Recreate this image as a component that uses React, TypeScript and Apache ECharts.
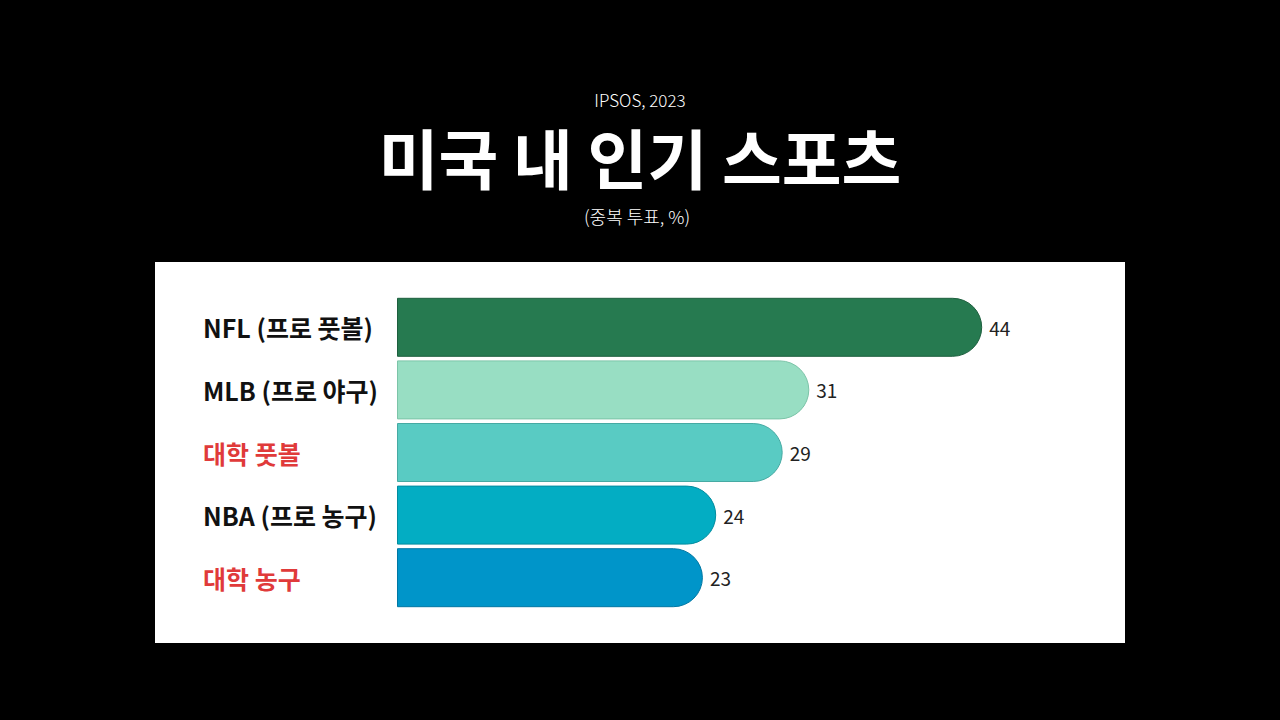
import { useRef, useEffect } from 'react'
import * as echarts from 'echarts'

const categories = ['NFL (프로 풋볼)', 'MLB (프로 야구)', '대학 풋볼', 'NBA (프로 농구)', '대학 농구']
const values = [44, 31, 29, 24, 23]
const barColors = ['#267a50', '#98dec3', '#59cbc3', '#03adc3', '#0095c9']
const borderColors = ['#1d5f3e', '#7cc4a8', '#46aaa3', '#028c9e', '#0077a3']
const highlighted = ['대학 풋볼', '대학 농구']

const titleText = '미국 내 인기 스포츠'
const sourceText = 'IPSOS, 2023'
const noteText = '(중복 투표, %)'

const FONT = '"Noto Sans CJK KR", "Noto Sans", sans-serif'

export default function App() {
  const chartRef = useRef<HTMLDivElement>(null)

  useEffect(() => {
    if (!chartRef.current) return
    const instance = echarts.init(chartRef.current, null, { renderer: 'svg' })

    instance.setOption({
      animation: false,
      backgroundColor: '#000000',
      graphic: [
        {
          type: 'rect',
          z: -10,
          shape: { x: 155, y: 262, width: 970, height: 381 },
          style: { fill: '#ffffff' },
        },
        {
          type: 'text',
          x: 640,
          y: 99,
          style: {
            text: sourceText,
            fill: '#ffffff',
            font: `300 17px ${FONT}`,
            lineHeight: 18,
            align: 'center',
            verticalAlign: 'middle',
          },
        },
        {
          type: 'text',
          x: 640,
          y: 156,
          style: {
            text: titleText,
            fill: '#ffffff',
            font: `bold 65px ${FONT}`,
            lineHeight: 66,
            align: 'center',
            verticalAlign: 'middle',
          },
        },
        {
          type: 'text',
          x: 637,
          y: 216,
          style: {
            text: noteText,
            fill: '#ffffff',
            font: `300 18px ${FONT}`,
            lineHeight: 19,
            align: 'center',
            verticalAlign: 'middle',
          },
        },
      ],
      grid: { left: 397, top: 296, width: 665, height: 313, containLabel: false },
      xAxis: {
        type: 'value',
        min: 0,
        max: 50,
        show: false,
      },
      yAxis: {
        type: 'category',
        inverse: true,
        data: categories,
        axisLine: { show: false },
        axisTick: { show: false },
        axisLabel: {
          margin: 194,
          align: 'left',
          fontFamily: FONT,
          fontSize: 25,
          fontWeight: 'bold',
          color: '#111111',
          formatter: (v: string) => (highlighted.includes(v) ? `{red|${v}}` : v),
          rich: {
            red: {
              fontFamily: FONT,
              fontSize: 25,
              fontWeight: 'bold',
              color: '#e03a3a',
            },
          },
        },
      },
      series: [
        {
          type: 'bar',
          barWidth: 59,
          data: values.map((v, i) => ({
            value: v,
            itemStyle: {
              color: barColors[i],
              borderColor: borderColors[i],
              borderWidth: 1,
              borderRadius: [0, 30, 30, 0],
            },
          })),
          label: {
            show: true,
            position: 'right',
            distance: 7,
            fontFamily: FONT,
            fontSize: 19,
            color: '#222222',
          },
        },
      ],
    })

    return () => {
      instance.dispose()
    }
  }, [])

  return (
    <div
      ref={chartRef}
      style={{ position: 'fixed', left: 0, top: 0, width: 1280, height: 720 }}
    />
  )
}
